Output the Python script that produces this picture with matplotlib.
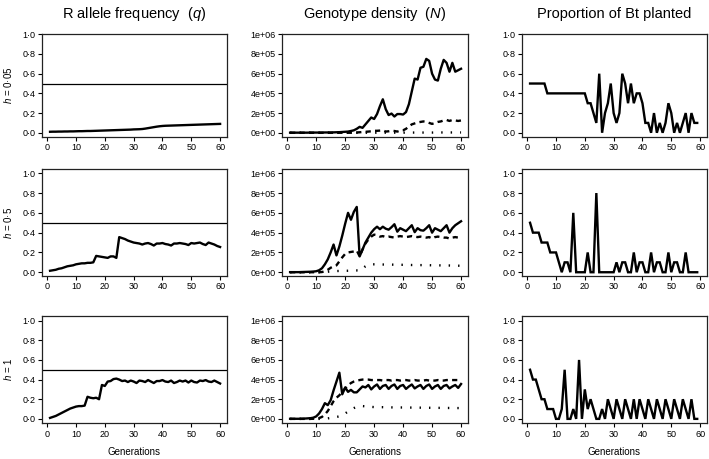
import matplotlib
matplotlib.use("Agg")
import matplotlib.pyplot as plt
from matplotlib import font_manager
import numpy as np

plt.rcParams["font.family"] = ["Liberation Sans", "DejaVu Sans"]
plt.rcParams["mathtext.fontset"] = "custom"
plt.rcParams["mathtext.rm"] = "Liberation Sans"
plt.rcParams["mathtext.it"] = "Liberation Sans:italic"

# tick labels in the reference are a condensed Helvetica; use the narrow face if present
_names = {f.name for f in font_manager.fontManager.ttflist}
TICK_FAMILY = "Liberation Sans Narrow" if "Liberation Sans Narrow" in _names else "Liberation Sans"

# ---- data ----
gens = list(range(1, 61))
gens_bt = list(range(1, 60))
row_labels = [r"$\mathit{h}$ = 0·05", r"$\mathit{h}$ = 0·5", r"$\mathit{h}$ = 1"]
col_titles = [r"R allele frequency  ($\mathit{q}$)", r"Genotype density  ($\mathit{N}$)",
              "Proportion of Bt planted"]

# R allele frequency q
q_h005 = [0.010, 0.011, 0.011, 0.012, 0.012, 0.013, 0.013, 0.014, 0.014, 0.015,
          0.016, 0.016, 0.017, 0.018, 0.018, 0.019, 0.020, 0.021, 0.022, 0.023,
          0.024, 0.025, 0.026, 0.027, 0.028, 0.029, 0.030, 0.031, 0.032, 0.034,
          0.035, 0.036, 0.038, 0.042, 0.047, 0.052, 0.057, 0.062, 0.066, 0.069,
          0.071, 0.072, 0.073, 0.074, 0.075, 0.076, 0.077, 0.078, 0.079, 0.080,
          0.081, 0.082, 0.083, 0.084, 0.085, 0.086, 0.087, 0.088, 0.089, 0.090]
q_h05 = [0.015, 0.020, 0.025, 0.035, 0.040, 0.050, 0.060, 0.065, 0.070, 0.080,
         0.085, 0.090, 0.090, 0.095, 0.095, 0.100, 0.165, 0.160, 0.155, 0.150,
         0.145, 0.160, 0.160, 0.145, 0.355, 0.345, 0.335, 0.320, 0.310, 0.300,
         0.295, 0.290, 0.280, 0.290, 0.295, 0.285, 0.270, 0.290, 0.290, 0.295,
         0.285, 0.280, 0.270, 0.290, 0.290, 0.295, 0.290, 0.285, 0.275, 0.295,
         0.290, 0.295, 0.300, 0.285, 0.275, 0.300, 0.290, 0.280, 0.265, 0.255]
q_h1 = [0.010, 0.020, 0.030, 0.045, 0.060, 0.075, 0.090, 0.105, 0.115, 0.125,
        0.130, 0.130, 0.135, 0.225, 0.215, 0.210, 0.215, 0.200, 0.345, 0.335,
        0.380, 0.385, 0.405, 0.410, 0.400, 0.385, 0.390, 0.375, 0.390, 0.380,
        0.365, 0.390, 0.385, 0.375, 0.395, 0.380, 0.365, 0.385, 0.385, 0.395,
        0.380, 0.375, 0.390, 0.365, 0.375, 0.390, 0.380, 0.390, 0.370, 0.390,
        0.375, 0.370, 0.390, 0.385, 0.395, 0.380, 0.375, 0.390, 0.375, 0.360]

# genotype density, in units of 1e5
ss_h005 = [0.01, 0.01, 0.01, 0.01, 0.01, 0.01, 0.01, 0.02, 0.02, 0.02,
           0.02, 0.02, 0.03, 0.03, 0.03, 0.04, 0.05, 0.06, 0.08, 0.10,
           0.12, 0.18, 0.25, 0.40, 0.60, 0.50, 0.85, 1.20, 1.55, 1.40,
           1.90, 2.70, 3.40, 2.40, 1.80, 1.95, 1.65, 1.90, 1.90, 1.85,
           2.10, 2.90, 4.20, 5.50, 5.40, 6.60, 6.70, 7.50, 7.30, 6.00,
           5.40, 5.30, 6.50, 7.40, 7.10, 6.20, 7.10, 6.20, 6.35, 6.50]
rs_h005 = [0.00] * 22 + [0.02, 0.03, 0.05, 0.08, 0.10, 0.12, 0.15, 0.20,
           0.20, 0.22, 0.25, 0.12, 0.15, 0.20, 0.18, 0.12, 0.22, 0.25,
           0.40, 0.65, 0.85, 0.95, 1.05, 1.10, 1.15, 1.10, 1.00, 0.90,
           1.00, 1.10, 1.15, 1.25, 1.30, 1.20, 1.30, 1.25, 1.20, 1.25]
rr_h005 = [0.00] * 30 + [0.01] * 10 + [0.02] * 10 + [0.03] * 10

ss_h05 = [0.01, 0.01, 0.01, 0.01, 0.02, 0.03, 0.04, 0.05, 0.07, 0.10,
          0.20, 0.40, 0.80, 1.30, 2.00, 2.80, 1.70, 2.60, 3.70, 4.90,
          6.00, 5.30, 6.10, 6.60, 1.60, 2.30, 3.00, 3.50, 4.00, 4.35,
          4.60, 4.35, 4.60, 4.40, 4.30, 4.55, 4.85, 4.10, 4.45, 4.30,
          4.15, 4.45, 4.75, 4.05, 4.45, 4.25, 4.20, 4.45, 4.75, 4.00,
          4.45, 4.30, 4.15, 4.45, 4.75, 4.00, 4.45, 4.75, 4.95, 5.15]
rs_h05 = [0.00] * 11 + [0.02, 0.10, 0.25, 0.45, 0.60, 0.70, 1.10, 1.50, 1.85,
          2.00, 2.05, 2.10, 2.20, 1.60, 2.30, 2.90, 3.30, 3.60, 3.80,
          3.75, 3.60, 3.65, 3.55, 3.60, 3.55, 3.50, 3.60, 3.65, 3.60,
          3.55, 3.60, 3.65, 3.60, 3.55, 3.60, 3.55, 3.50, 3.55, 3.40,
          3.55, 3.60, 3.55, 3.50, 3.50, 3.40, 3.50, 3.55, 3.50, 3.50]
rr_h05 = [0.00] * 12 + [0.02, 0.05, 0.08, 0.10, 0.12, 0.13, 0.14, 0.15,
          0.15, 0.16, 0.17, 0.18, 0.15, 0.35, 0.60, 0.75, 0.80, 0.80,
          0.80, 0.79, 0.78, 0.78, 0.77, 0.77, 0.76, 0.76, 0.75, 0.75,
          0.74, 0.74, 0.73, 0.73, 0.72, 0.72, 0.72, 0.71, 0.71, 0.70,
          0.70, 0.70, 0.69, 0.69, 0.68, 0.68, 0.67, 0.67, 0.66, 0.65]

ss_h1 = [0.01, 0.01, 0.01, 0.01, 0.02, 0.03, 0.05, 0.07, 0.12, 0.25,
         0.55, 1.00, 1.60, 1.40, 1.90, 2.90, 3.80, 4.70, 2.50, 3.20,
         2.75, 2.95, 2.70, 2.70, 3.00, 3.30, 3.20, 3.45, 3.00, 3.30,
         3.50, 3.05, 3.35, 3.45, 3.05, 3.35, 3.50, 3.05, 3.35, 3.45,
         3.05, 3.30, 3.50, 3.10, 3.30, 3.45, 3.05, 3.35, 3.50, 3.05,
         3.30, 3.45, 3.05, 3.35, 3.45, 3.10, 3.30, 3.45, 3.15, 3.55]
rs_h1 = [0.00] * 8 + [0.01, 0.03, 0.08, 0.20, 0.45, 0.80, 1.30, 1.80, 2.15, 2.40,
         2.75, 3.10, 3.40, 3.65, 3.80, 3.90, 3.95, 4.00, 4.00, 4.00,
         3.95, 3.95, 3.95, 3.95, 3.90, 3.95, 3.95, 3.90, 3.95, 3.95,
         3.90, 3.95, 3.95, 3.90, 3.90, 3.95, 3.90, 3.90, 3.90, 3.95,
         3.90, 3.90, 3.90, 3.95, 3.90, 3.90, 3.95, 3.95, 3.95, 3.95,
         3.95, 3.95]
rr_h1 = [0.00] * 12 + [0.02, 0.05, 0.10, 0.15, 0.20, 0.25, 0.40, 0.55,
         0.75, 0.95, 1.10, 1.20, 1.28, 1.30, 1.28, 1.25, 1.22, 1.20,
         1.20, 1.19, 1.19, 1.18, 1.18, 1.17, 1.17, 1.16, 1.16, 1.16,
         1.15, 1.15, 1.15, 1.14, 1.14, 1.14, 1.13, 1.13, 1.13, 1.12,
         1.12, 1.12, 1.12, 1.11, 1.11, 1.11, 1.11, 1.10, 1.10, 1.10]

# proportion of Bt planted
bt_h005 = [0.5, 0.5, 0.5, 0.5, 0.5, 0.5, 0.4, 0.4, 0.4, 0.4,
           0.4, 0.4, 0.4, 0.4, 0.4, 0.4, 0.4, 0.4, 0.4, 0.4,
           0.3, 0.3, 0.2, 0.1, 0.6, 0.0, 0.2, 0.3, 0.5, 0.2,
           0.1, 0.2, 0.6, 0.5, 0.3, 0.5, 0.3, 0.4, 0.4, 0.3,
           0.1, 0.1, 0.0, 0.2, 0.0, 0.1, 0.0, 0.1, 0.3, 0.2,
           0.0, 0.1, 0.0, 0.1, 0.2, 0.0, 0.2, 0.1, 0.1]
bt_h05 = [0.5, 0.4, 0.4, 0.4, 0.3, 0.3, 0.3, 0.2, 0.2, 0.2,
          0.1, 0.0, 0.1, 0.1, 0.0, 0.6, 0.0, 0.0, 0.0, 0.0,
          0.2, 0.0, 0.0, 0.8, 0.0, 0.0, 0.0, 0.0, 0.0, 0.0,
          0.1, 0.0, 0.1, 0.1, 0.0, 0.0, 0.2, 0.0, 0.1, 0.1,
          0.0, 0.0, 0.2, 0.0, 0.1, 0.1, 0.0, 0.0, 0.2, 0.0,
          0.1, 0.1, 0.0, 0.0, 0.2, 0.0, 0.0, 0.0, 0.0]
bt_h1 = [0.5, 0.4, 0.4, 0.3, 0.2, 0.2, 0.1, 0.1, 0.1, 0.0,
         0.0, 0.1, 0.5, 0.0, 0.0, 0.1, 0.0, 0.6, 0.0, 0.3,
         0.1, 0.2, 0.1, 0.0, 0.0, 0.1, 0.0, 0.2, 0.1, 0.0,
         0.2, 0.1, 0.0, 0.2, 0.1, 0.0, 0.2, 0.0, 0.2, 0.1,
         0.0, 0.2, 0.1, 0.0, 0.2, 0.1, 0.0, 0.2, 0.1, 0.0,
         0.2, 0.1, 0.0, 0.2, 0.1, 0.0, 0.2, 0.0, 0.0]

q_rows = [q_h005, q_h05, q_h1]
dens_rows = [(ss_h005, rs_h005, rr_h005), (ss_h05, rs_h05, rr_h05), (ss_h1, rs_h1, rr_h1)]
bt_rows = [bt_h005, bt_h05, bt_h1]

prop_ticks = [0.0, 0.2, 0.4, 0.6, 0.8, 1.0]
prop_labels = ["0·0", "0·2", "0·4", "0·6", "0·8", "1·0"]
dens_ticks = [0, 2e5, 4e5, 6e5, 8e5, 1e6]
dens_labels = ["0e+00", "2e+05", "4e+05", "6e+05", "8e+05", "1e+06"]
x_ticks = [0, 10, 20, 30, 40, 50, 60]

# ---- layout in pixels ----
W, H = 709, 459
cols = [(41.7, 227.3), (281.7, 468.3), (521.7, 707.3)]
rows = [(33.7, 136.7), (169.3, 275.7), (315.7, 423.3)]
ylims = [(-0.04, 1.006), (-0.035, 1.04), (-0.045, 1.05)]
LW = 1.7
TICK_SIZE = 6.8 if TICK_FAMILY.endswith("Narrow") else 6.5

fig = plt.figure(figsize=(W / 100, H / 100), dpi=100)


def rect(l, r, t, b):
    return [l / W, 1 - b / H, (r - l) / W, (b - t) / H]


for i, (t, b) in enumerate(rows):
    for j, (l, r) in enumerate(cols):
        ax = fig.add_axes(rect(l, r, t, b))
        lo, hi = ylims[i]
        if j == 0:
            ax.axhline(0.5, color="black", lw=0.9)
            ax.plot(gens, q_rows[i], color="black", lw=LW, solid_joinstyle="round")
            ax.set_ylim(lo, hi)
            ax.set_yticks(prop_ticks)
            ax.set_yticklabels(prop_labels)
        elif j == 1:
            ss, rs, rr = dens_rows[i]
            ax.plot(gens, np.array(ss) * 1e5, color="black", lw=LW, solid_joinstyle="round")
            ax.plot(gens, np.array(rs) * 1e5, color="black", lw=LW, dashes=(2.2, 1.8))
            ax.plot(gens, np.array(rr) * 1e5, color="black", lw=LW, dashes=(0.6, 3.4))
            ax.set_ylim(lo * 1e6, hi * 1e6)
            ax.set_yticks(dens_ticks)
            ax.set_yticklabels(dens_labels)
        else:
            ax.plot(gens_bt, bt_rows[i], color="black", lw=LW, solid_joinstyle="miter")
            ax.set_ylim(lo, hi)
            ax.set_yticks(prop_ticks)
            ax.set_yticklabels(prop_labels)
        ax.set_xlim(-1.9, 62.5)
        ax.set_xticks(x_ticks)
        ax.tick_params(direction="out", length=3, width=0.8, labelsize=TICK_SIZE, pad=1.5,
                       colors="black")
        for lab in ax.get_xticklabels() + ax.get_yticklabels():
            lab.set_family([TICK_FAMILY, "DejaVu Sans"])
        for s in ax.spines.values():
            s.set_linewidth(0.9)
            s.set_color("#222222")
        if i == 2:
            fig.text((l + r) / 2 / W, 1 - 452 / H, "Generations", ha="center",
                     va="center", fontsize=7)
        if i == 0:
            fig.text((l + r) / 2 / W, 1 - 18.3 / H, col_titles[j], ha="center",
                     va="baseline", fontsize=10.5)
    fig.text(8 / W, 1 - (t + b) / 2 / H, row_labels[i], rotation=90, ha="center",
             va="center", fontsize=7)

fig.savefig("out.png", dpi=100, facecolor="white")
